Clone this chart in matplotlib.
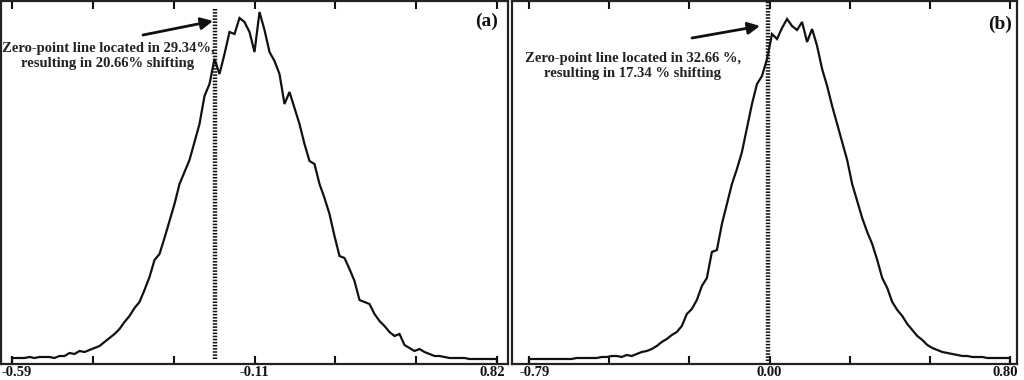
import numpy as np
import matplotlib
matplotlib.use("Agg")
import matplotlib.pyplot as plt
from matplotlib.transforms import ScaledTranslation

# ---------------- data ----------------
a_range = (-0.59, 0.82)
b_range = (-0.79, 0.80)
zero_x = 0.0

a_counts = [6, 6, 6, 7, 6, 7, 7, 7, 6, 8,
            8, 11, 10, 13, 12, 14, 16, 18, 22, 26,
            30, 35, 42, 48, 56, 62, 74, 87, 104, 110,
            126, 143, 160, 180, 192, 204, 222, 240, 268, 280,
            305, 290, 310, 332, 330, 346, 342, 332, 312, 352,
            334, 312, 303, 290, 260, 272, 256, 240, 220, 203,
            200, 180, 166, 150, 128, 108, 106, 95, 83, 64,
            62, 60, 50, 43, 38, 32, 28, 30, 19, 16,
            13, 15, 12, 10, 8, 8, 7, 6, 6, 6,
            6, 5, 5, 5, 5, 5, 5]

b_counts = [5, 5, 5, 5, 5, 5, 5, 5, 5, 6,
            6, 6, 6, 6, 7, 7, 8, 8, 7, 9,
            8, 10, 12, 13, 15, 18, 22, 25, 29, 32,
            38, 50, 55, 64, 78, 86, 112, 114, 140, 160,
            180, 195, 212, 236, 260, 280, 288, 305, 330, 325,
            336, 345, 338, 334, 342, 322, 335, 318, 295, 278,
            258, 240, 222, 204, 180, 163, 146, 132, 120, 104,
            86, 76, 62, 54, 48, 40, 34, 28, 24, 19,
            16, 14, 12, 11, 10, 9, 8, 8, 7, 7,
            7, 6, 6, 6, 6, 6]

a_ticklabels = ['-0.59', '', '', '-0.11', '', '', '0.82']
b_ticklabels = ['-0.79', '', '', '0.00', '', '', '0.80']

a_text = "Zero-point line located in 29.34%,\nresulting in 20.66% shifting"
b_text = "Zero-point line located in 32.66 %,\nresulting in 17.34 % shifting"
panel_labels = ['(a)', '(b)']

# ---------------- style ----------------
plt.rcParams['font.family'] = ['Liberation Serif', 'DejaVu Serif']
plt.rcParams['font.weight'] = 'bold'

W, H = 1024, 380
fig = plt.figure(figsize=(W / 100, H / 100), dpi=100)

AX_TOP, AX_BOT = 1, 364

def px_axes(left, top, right, bottom):
    return fig.add_axes([left / W, (H - bottom) / H, (right - left) / W, (bottom - top) / H])

ax1 = px_axes(1, AX_TOP, 508, AX_BOT)
ax2 = px_axes(512, AX_TOP, 1017, AX_BOT)

panels = [
    dict(ax=ax1, counts=a_counts, rng=a_range, labels=a_ticklabels,
         px_ax=(1, 508), px_rng=(12, 497), text=a_text,
         text_px=(108, 56), head_px=(213, 21), tail_px=(143, 35),
         lab=panel_labels[0], lab_px=(487, 21), vline=(8, 359),
         shifts=(5, -5)),
    dict(ax=ax2, counts=b_counts, rng=b_range, labels=b_ticklabels,
         px_ax=(512, 1017), px_rng=(529, 1010), text=b_text,
         text_px=(633, 66), head_px=(760, 26), tail_px=(692, 38),
         lab=panel_labels[1], lab_px=(1000, 24), vline=(1, 361),
         shifts=(6, -5)),
]

for p in panels:
    ax = p['ax']
    lo, hi = p['rng']
    counts = np.asarray(p['counts'], dtype=float)
    n = len(counts)
    edges = np.linspace(lo, hi, n + 1)
    centers = 0.5 * (edges[:-1] + edges[1:])
    xs = np.concatenate([[lo, lo], centers, [hi, hi]])
    ys = np.concatenate([[0, counts[0]], counts, [counts[-1], 0]])
    ax.plot(xs, ys, color='#111111', lw=1.6, solid_joinstyle='miter')

    scale = (p['px_rng'][1] - p['px_rng'][0]) / (hi - lo)
    xl = lo - (p['px_rng'][0] - p['px_ax'][0]) / scale
    xr = hi + (p['px_ax'][1] - p['px_rng'][1]) / scale
    ax.set_xlim(xl, xr)
    ax.set_ylim(0, AX_BOT - AX_TOP)

    def px2data(px, py):
        return lo + (px - p['px_rng'][0]) / scale, AX_BOT - py

    ax.set_yticks([])
    ax.set_xticks(np.linspace(lo, hi, 7))
    ax.set_xticklabels(p['labels'], fontsize=10.5, fontweight='bold')
    ax.tick_params(axis='x', direction='in', length=6, width=1.5, top=True,
                   pad=1.5, colors='#111111')
    for s in ax.spines.values():
        s.set_linewidth(1.6)
        s.set_color('#222222')

    tl = ax.get_xticklabels()
    tl[0].set_transform(tl[0].get_transform() +
                        ScaledTranslation(p['shifts'][0] / 100, 0, fig.dpi_scale_trans))
    tl[-1].set_transform(tl[-1].get_transform() +
                         ScaledTranslation(p['shifts'][1] / 100, 0, fig.dpi_scale_trans))

    # zero-point dotted line
    ax.plot([zero_x, zero_x], [AX_BOT - p['vline'][1], AX_BOT - p['vline'][0]],
            color='#111111', lw=3.2, linestyle=(0, (0.35, 0.35)), solid_capstyle='butt')

    tx, ty = px2data(*p['text_px'])
    ax.text(tx, ty, p['text'], ha='center', va='center', multialignment='center',
            fontsize=10.5, fontweight='bold', color='#222222', linespacing=1.15)

    hx, hy = px2data(*p['head_px'])
    sx, sy = px2data(*p['tail_px'])
    ax.annotate('', xy=(hx, hy), xytext=(sx, sy),
                arrowprops=dict(arrowstyle='-|>', lw=2.0, color='#111111',
                                mutation_scale=18, shrinkA=0, shrinkB=0))

    lx, ly = px2data(*p['lab_px'])
    ax.text(lx, ly, p['lab'], ha='center', va='center', fontsize=14,
            fontweight='bold', color='#111111')

fig.savefig('out.png', dpi=100)
